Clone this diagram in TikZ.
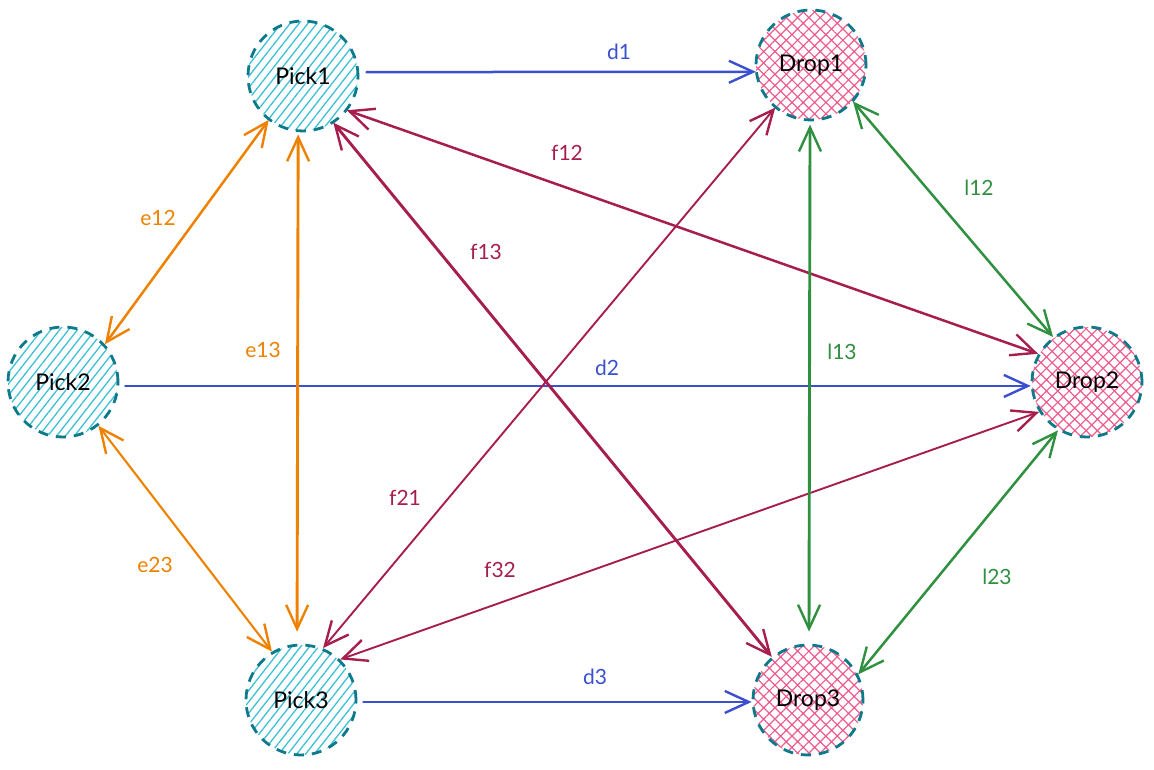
\documentclass[tikz,border=0pt]{standalone}
\usepackage{fontspec}
\setmainfont{Lato}
\usetikzlibrary{arrows.meta,patterns.meta}

\definecolor{ringteal}{HTML}{0C7A8A}
\definecolor{hatchcyan}{HTML}{3BC0D6}
\definecolor{hatchpink}{HTML}{EE5C8E}
\definecolor{lineblue}{HTML}{3B50D0}
\definecolor{lineorange}{HTML}{EE8200}
\definecolor{linecrimson}{HTML}{A61E4D}
\definecolor{linegreen}{HTML}{2F9040}

\tikzset{
  station/.style={circle, minimum size=110pt, inner sep=0pt,
    draw=ringteal, line width=2.8pt, dash pattern=on 10pt off 8pt,
    font=\fontsize{23}{23}\selectfont, text=black},
  pickst/.style={station,
    pattern={Lines[angle=52,distance=7pt,line width=1.3pt]}, pattern color=hatchcyan},
  dropst/.style={station,
    pattern={Hatch[angle=45,distance=8pt,line width=1.2pt]}, pattern color=hatchpink},
  barb/.tip={Straight Barb[length=24pt,width=22pt,line width=2.4pt]},
  link/.style={line width=2.5pt, line cap=round, arrows={-barb}},
  dlink/.style={link, arrows={barb-barb}},
  lbl/.style={font=\fontsize{21}{21}\selectfont, inner sep=0pt},
}

\begin{document}
\begin{tikzpicture}[x=1pt,y=-1pt]
  \useasboundingbox (0,0) rectangle (1154,770);

  % stations
  \node[pickst] (p1) at (303,76)  {Pick1};
  \node[pickst] (p2) at (63,382)  {Pick2};
  \node[pickst] (p3) at (301,700) {Pick3};
  \node[dropst] (d1) at (811,65)  {Drop1};
  \node[dropst] (d2) at (1087,382) {Drop2};
  \node[dropst] (d3) at (808,700) {Drop3};

  % direct pick -> drop links
  \draw[link, lineblue, shorten <=8pt] (p1.4) -- (d1.187);
  \draw[link, lineblue, shorten <=6pt] (p2.-4) -- (d2.184);
  \draw[link, lineblue, shorten <=6pt] (p3.-2) -- (d3.182);
  \node[lbl, text=lineblue] (ld1) at (619,52) {d1};
  \node[lbl, text=lineblue] (ld2) at (607,368) {d2};
  \node[lbl, text=lineblue] (ld3) at (595,677) {d3};

  % pick <-> pick links
  \draw[dlink, lineorange] (p1.232) -- (p2.42);
  \draw[dlink, lineorange, line width=2.9pt, shorten <=3pt, shorten >=12pt] (p1.265) -- (p3.94);
  \draw[dlink, lineorange, line width=2.1pt] (p2.-51) -- (p3.121);
  \node[lbl, text=lineorange] (le12) at (158,218) {e12};
  \node[lbl, text=lineorange] (le13) at (263,350) {e13};
  \node[lbl, text=lineorange] (le23) at (155,565) {e23};

  % cross links
  \draw[dlink, linecrimson] (p1.-38) -- (d2.150);
  \draw[dlink, linecrimson, line width=2.9pt] (p1.-57) -- (d3.130);
  \draw[dlink, linecrimson, line width=1.9pt] (d1.230) -- (p3.67);
  \draw[dlink, linecrimson, line width=1.9pt] (d2.212) -- (p3.46);
  \node[lbl, text=linecrimson] (lf12) at (567,153) {f12};
  \node[lbl, text=linecrimson] (lf13) at (486,252) {f13};
  \node[lbl, text=linecrimson] (lf21) at (405,498) {f21};
  \node[lbl, text=linecrimson] (lf32) at (500,570) {f32};

  % drop <-> drop links
  \draw[dlink, linegreen] (d1.-41) -- (d2.127);
  \draw[dlink, linegreen, line width=2.9pt, shorten <=4pt, shorten >=12pt] (d1.-91) -- (d3.89);
  \draw[dlink, linegreen] (d2.239) -- (d3.27);
  \node[lbl, text=linegreen] (ll12) at (979,188) {l12};
  \node[lbl, text=linegreen] (ll13) at (842,352) {l13};
  \node[lbl, text=linegreen] (ll23) at (997,577) {l23};
\end{tikzpicture}
\end{document}
